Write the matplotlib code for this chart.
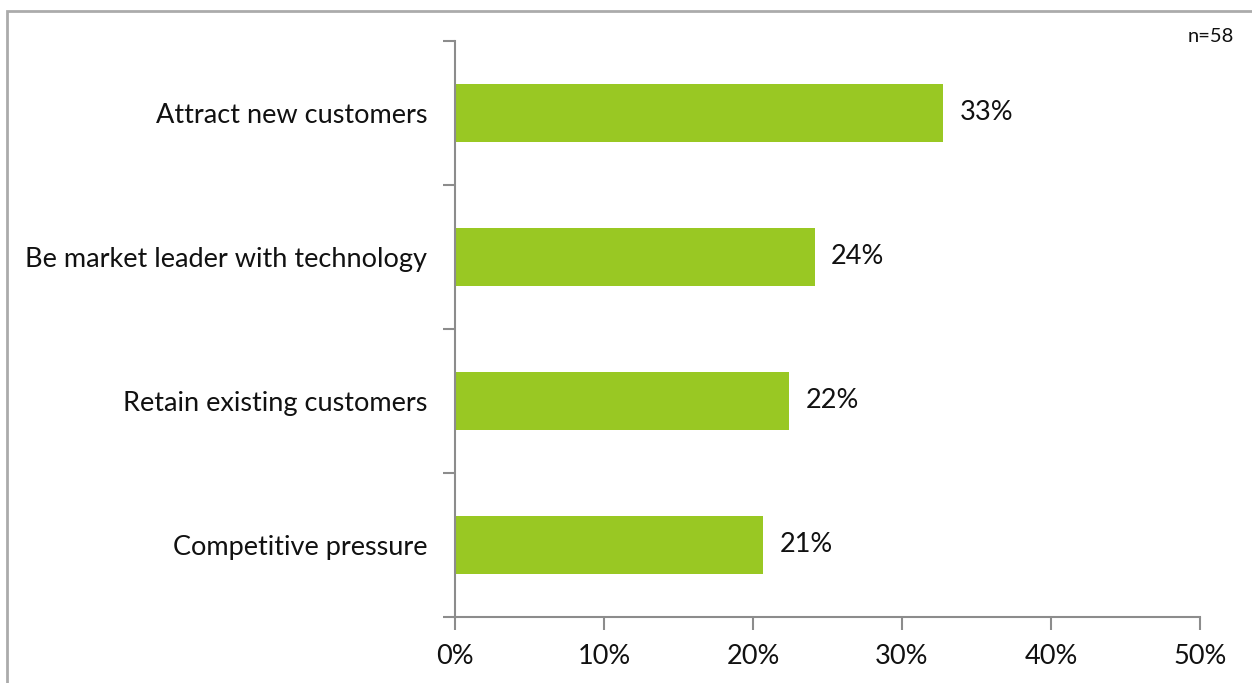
import matplotlib
matplotlib.use("Agg")
import matplotlib.pyplot as plt
from matplotlib.patches import Rectangle
from matplotlib.ticker import FixedLocator, PercentFormatter

plt.rcParams['font.family'] = ['Lato', 'DejaVu Sans']

# Survey responses (count of respondents per driver)
categories = ["Attract new customers", "Be market leader with technology",
              "Retain existing customers", "Competitive pressure"]
counts = [19, 14, 13, 12]
n_total = 58
shares = [c / n_total * 100 for c in counts]
x_ticks = [0, 10, 20, 30, 40, 50]

BAR_COLOR = "#99C823"
AXIS_COLOR = "#8C8C8C"
TEXT_COLOR = "#111111"
FS = 19.5

fig = plt.figure(figsize=(12.52, 6.83), dpi=100)
ax = fig.add_axes([455 / 1252, 1 - 616.7 / 683, 745 / 1252, 576 / 683])

ypos = list(range(len(categories)))[::-1]
ax.barh(ypos, shares, height=0.4, color=BAR_COLOR, zorder=2)

for y, v in zip(ypos, shares):
    ax.text(v + 1.1, y, f"{v:.0f}%", va="center", ha="left", fontsize=FS, color=TEXT_COLOR)

ax.set_xlim(0, 50)
ax.set_ylim(-0.5, len(categories) - 0.5)

ax.xaxis.set_major_locator(FixedLocator(x_ticks))
ax.xaxis.set_major_formatter(PercentFormatter(decimals=0))
ax.tick_params(axis="x", direction="out", length=9, width=1.5, color=AXIS_COLOR,
               labelsize=FS, pad=11, labelcolor=TEXT_COLOR)

# category boundaries get tick marks, labels sit at bar centres
ax.yaxis.set_major_locator(FixedLocator([i - 0.5 for i in range(len(categories) + 1)]))
ax.yaxis.set_major_formatter(plt.NullFormatter())
ax.set_yticks(ypos, categories, minor=True)
ax.tick_params(axis="y", which="major", direction="out", length=9, width=1.5, color=AXIS_COLOR)
ax.tick_params(axis="y", which="minor", length=0, labelsize=FS, pad=20, labelcolor=TEXT_COLOR)

for side in ("top", "right"):
    ax.spines[side].set_visible(False)
for side in ("left", "bottom"):
    ax.spines[side].set_color(AXIS_COLOR)
    ax.spines[side].set_linewidth(1.5)

fig.text(1234 / 1252, 1 - 36 / 683, f"n={n_total}", ha="right", va="center",
         fontsize=14.5, color=TEXT_COLOR)

# outer chart frame
fig.patches.append(Rectangle((7 / 1252, -0.05), 1.2, 1 - 11 / 683 + 0.05, transform=fig.transFigure,
                             fill=False, edgecolor="#ABABAB", linewidth=2))

fig.savefig("out.png", dpi=100)
